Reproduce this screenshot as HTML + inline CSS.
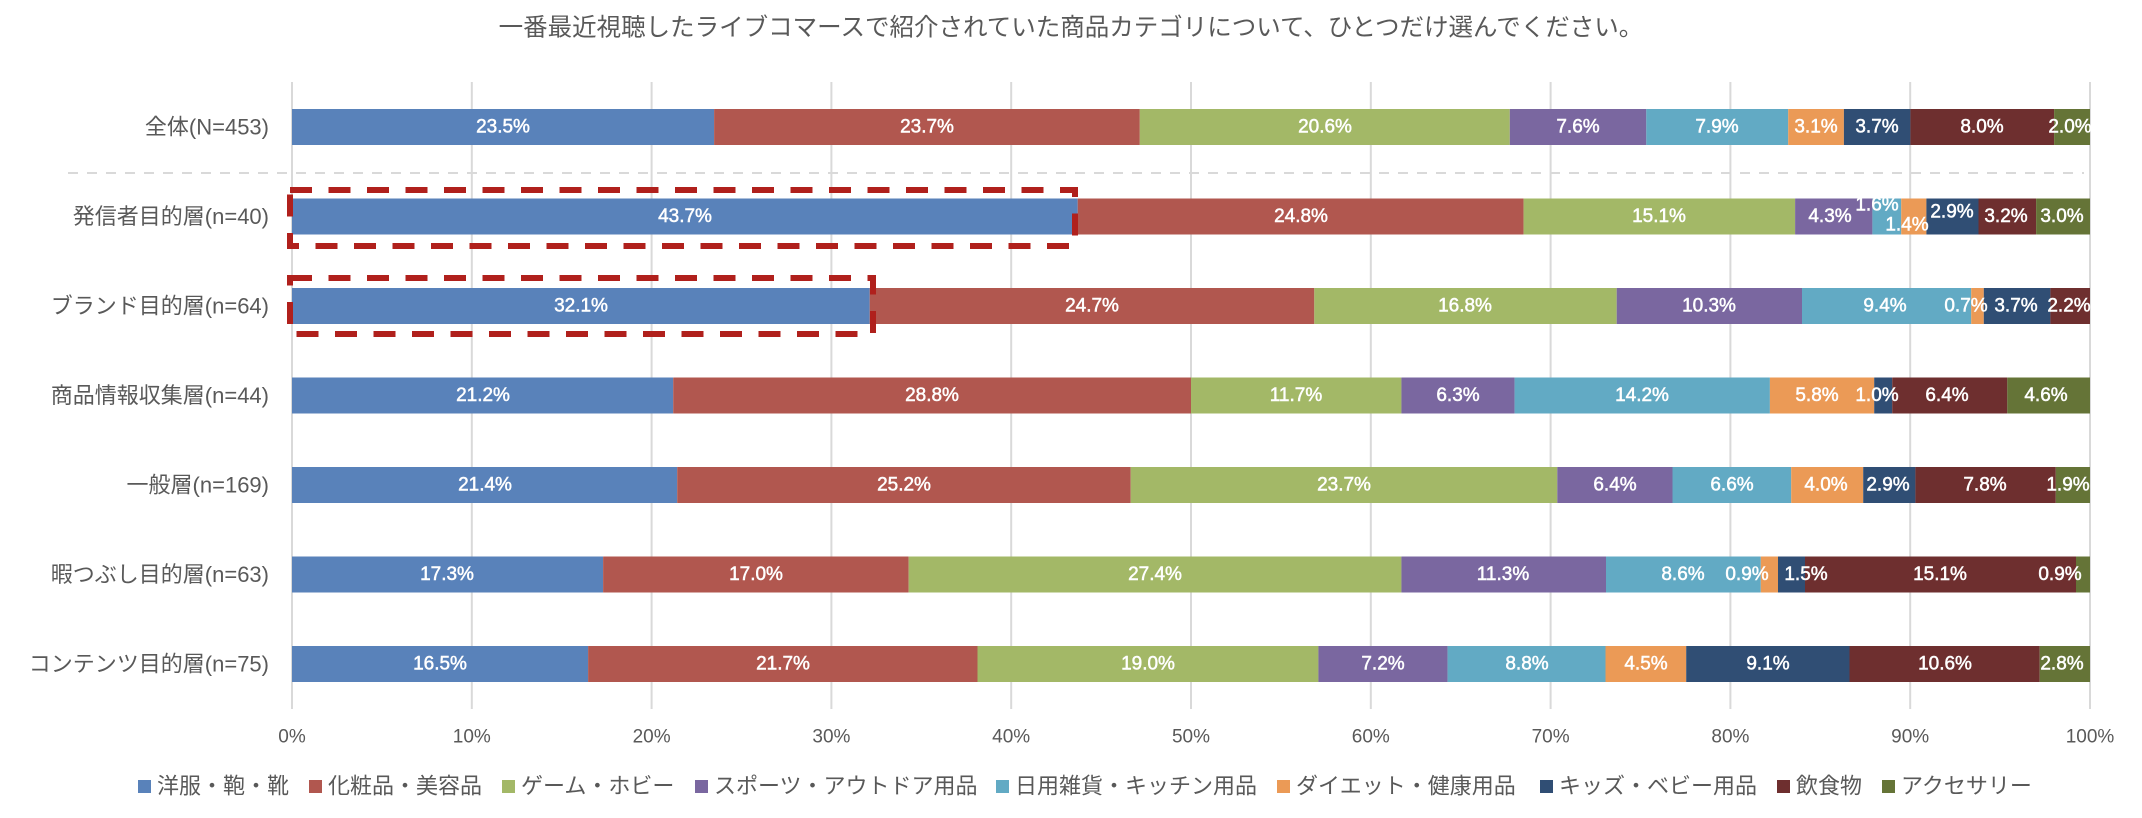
<!DOCTYPE html>
<html><head><meta charset="utf-8"><style>
html,body{margin:0;padding:0;background:#fff;}
svg{display:block;}
text{font-family:"Liberation Sans","Noto Sans CJK JP",sans-serif;}
.v{fill:#fff;stroke:#fff;stroke-width:0.5px;font-size:19px;text-anchor:middle;dominant-baseline:central;}
.c{fill:#595959;font-size:22px;text-anchor:end;dominant-baseline:central;}
.t{fill:#595959;font-size:19px;text-anchor:middle;dominant-baseline:central;}
.l{fill:#595959;font-size:22px;dominant-baseline:central;}
</style></head><body>
<svg width="2142" height="818" viewBox="0 0 2142 818" xmlns="http://www.w3.org/2000/svg">
<rect width="2142" height="818" fill="#fff"/>
<text x="1071" y="28" style="fill:#595959;font-size:24.5px;text-anchor:middle;dominant-baseline:central;">一番最近視聴したライブコマースで紹介されていた商品カテゴリについて、ひとつだけ選んでください。</text>
<g stroke="#d9d9d9" stroke-width="2">
<line x1="292" y1="82" x2="292" y2="709"/>
<line x1="471.8" y1="82" x2="471.8" y2="709"/>
<line x1="651.6" y1="82" x2="651.6" y2="709"/>
<line x1="831.4" y1="82" x2="831.4" y2="709"/>
<line x1="1011.2" y1="82" x2="1011.2" y2="709"/>
<line x1="1191" y1="82" x2="1191" y2="709"/>
<line x1="1370.8" y1="82" x2="1370.8" y2="709"/>
<line x1="1550.6" y1="82" x2="1550.6" y2="709"/>
<line x1="1730.4" y1="82" x2="1730.4" y2="709"/>
<line x1="1910.2" y1="82" x2="1910.2" y2="709"/>
<line x1="2090" y1="82" x2="2090" y2="709"/>
</g>
<line x1="68" y1="173" x2="2084" y2="173" stroke="#d9d9d9" stroke-width="2" stroke-dasharray="10 9"/>

<!-- Row 1 -->
<g>
<rect x="292" y="109" width="422.1" height="36" fill="#5982BA"/>
<rect x="714.1" y="109" width="425.7" height="36" fill="#B1574F"/>
<rect x="1139.8" y="109" width="370" height="36" fill="#A3B867"/>
<rect x="1509.8" y="109" width="136.5" height="36" fill="#7A67A0"/>
<rect x="1646.3" y="109" width="141.9" height="36" fill="#62AAC4"/>
<rect x="1788.2" y="109" width="55.7" height="36" fill="#EB9A56"/>
<rect x="1843.9" y="109" width="66.5" height="36" fill="#304E74"/>
<rect x="1910.4" y="109" width="143.7" height="36" fill="#6E2F2F"/>
<rect x="2054.1" y="109" width="35.9" height="36" fill="#657437"/>
<text class="v" x="503" y="127">23.5%</text>
<text class="v" x="927" y="127">23.7%</text>
<text class="v" x="1325" y="127">20.6%</text>
<text class="v" x="1578" y="127">7.6%</text>
<text class="v" x="1717" y="127">7.9%</text>
<text class="v" x="1816" y="127">3.1%</text>
<text class="v" x="1877" y="127">3.7%</text>
<text class="v" x="1982" y="127">8.0%</text>
<text class="v" x="2070" y="127">2.0%</text>
</g>

<!-- Row 2 -->
<g>
<rect x="292" y="198.5" width="785.7" height="36" fill="#5982BA"/>
<rect x="1077.7" y="198.5" width="445.9" height="36" fill="#B1574F"/>
<rect x="1523.6" y="198.5" width="271.5" height="36" fill="#A3B867"/>
<rect x="1795.1" y="198.5" width="77.3" height="36" fill="#7A67A0"/>
<rect x="1872.4" y="198.5" width="28.8" height="36" fill="#62AAC4"/>
<rect x="1901.2" y="198.5" width="25.2" height="36" fill="#EB9A56"/>
<rect x="1926.4" y="198.5" width="52.1" height="36" fill="#304E74"/>
<rect x="1978.5" y="198.5" width="57.6" height="36" fill="#6E2F2F"/>
<rect x="2036.1" y="198.5" width="53.9" height="36" fill="#657437"/>
<text class="v" x="685" y="216.5">43.7%</text>
<text class="v" x="1301" y="216.5">24.8%</text>
<text class="v" x="1659" y="216.5">15.1%</text>
<text class="v" x="1830" y="216.5">4.3%</text>
<text class="v" x="1877" y="205">1.6%</text>
<text class="v" x="1907" y="225">1.4%</text>
<text class="v" x="1952" y="212">2.9%</text>
<text class="v" x="2006" y="216.5">3.2%</text>
<text class="v" x="2062" y="216.5">3.0%</text>
</g>

<!-- Row 3 -->
<g>
<rect x="292" y="288" width="577.7" height="36" fill="#5982BA"/>
<rect x="869.7" y="288" width="444.6" height="36" fill="#B1574F"/>
<rect x="1314.3" y="288" width="302.4" height="36" fill="#A3B867"/>
<rect x="1616.7" y="288" width="185.3" height="36" fill="#7A67A0"/>
<rect x="1802" y="288" width="169.2" height="36" fill="#62AAC4"/>
<rect x="1971.2" y="288" width="12.6" height="36" fill="#EB9A56"/>
<rect x="1983.8" y="288" width="66.6" height="36" fill="#304E74"/>
<rect x="2050.4" y="288" width="39.6" height="36" fill="#6E2F2F"/>
<text class="v" x="581" y="306">32.1%</text>
<text class="v" x="1092" y="306">24.7%</text>
<text class="v" x="1465" y="306">16.8%</text>
<text class="v" x="1709" y="306">10.3%</text>
<text class="v" x="1885" y="306">9.4%</text>
<text class="v" x="1966" y="306">0.7%</text>
<text class="v" x="2016" y="306">3.7%</text>
<text class="v" x="2069" y="306">2.2%</text>
</g>

<!-- Row 4 -->
<g>
<rect x="292" y="377.5" width="381.2" height="36" fill="#5982BA"/>
<rect x="673.2" y="377.5" width="517.8" height="36" fill="#B1574F"/>
<rect x="1191" y="377.5" width="210.4" height="36" fill="#A3B867"/>
<rect x="1401.4" y="377.5" width="113.2" height="36" fill="#7A67A0"/>
<rect x="1514.6" y="377.5" width="255.3" height="36" fill="#62AAC4"/>
<rect x="1769.9" y="377.5" width="104.3" height="36" fill="#EB9A56"/>
<rect x="1874.2" y="377.5" width="18" height="36" fill="#304E74"/>
<rect x="1892.2" y="377.5" width="115.1" height="36" fill="#6E2F2F"/>
<rect x="2007.3" y="377.5" width="82.7" height="36" fill="#657437"/>
<text class="v" x="483" y="395.5">21.2%</text>
<text class="v" x="932" y="395.5">28.8%</text>
<text class="v" x="1296" y="395.5">11.7%</text>
<text class="v" x="1458" y="395.5">6.3%</text>
<text class="v" x="1642" y="395.5">14.2%</text>
<text class="v" x="1817" y="395.5">5.8%</text>
<text class="v" x="1877" y="395.5">1.0%</text>
<text class="v" x="1947" y="395.5">6.4%</text>
<text class="v" x="2046" y="395.5">4.6%</text>
</g>

<!-- Row 5 -->
<g>
<rect x="292" y="467" width="385.2" height="36" fill="#5982BA"/>
<rect x="677.2" y="467" width="453.5" height="36" fill="#B1574F"/>
<rect x="1130.7" y="467" width="426.6" height="36" fill="#A3B867"/>
<rect x="1557.3" y="467" width="115.2" height="36" fill="#7A67A0"/>
<rect x="1672.5" y="467" width="118.7" height="36" fill="#62AAC4"/>
<rect x="1791.2" y="467" width="72" height="36" fill="#EB9A56"/>
<rect x="1863.2" y="467" width="52.2" height="36" fill="#304E74"/>
<rect x="1915.4" y="467" width="140.4" height="36" fill="#6E2F2F"/>
<rect x="2055.8" y="467" width="34.2" height="36" fill="#657437"/>
<text class="v" x="485" y="485">21.4%</text>
<text class="v" x="904" y="485">25.2%</text>
<text class="v" x="1344" y="485">23.7%</text>
<text class="v" x="1615" y="485">6.4%</text>
<text class="v" x="1732" y="485">6.6%</text>
<text class="v" x="1826" y="485">4.0%</text>
<text class="v" x="1888" y="485">2.9%</text>
<text class="v" x="1985" y="485">7.8%</text>
<text class="v" x="2068" y="485">1.9%</text>
</g>

<!-- Row 6 -->
<g>
<rect x="292" y="556.5" width="311.1" height="36" fill="#5982BA"/>
<rect x="603.1" y="556.5" width="305.6" height="36" fill="#B1574F"/>
<rect x="908.7" y="556.5" width="492.7" height="36" fill="#A3B867"/>
<rect x="1401.4" y="556.5" width="204.6" height="36" fill="#7A67A0"/>
<rect x="1606" y="556.5" width="154.8" height="36" fill="#62AAC4"/>
<rect x="1760.8" y="556.5" width="17.2" height="36" fill="#EB9A56"/>
<rect x="1778" y="556.5" width="27" height="36" fill="#304E74"/>
<rect x="1805" y="556.5" width="271" height="36" fill="#6E2F2F"/>
<rect x="2076" y="556.5" width="14" height="36" fill="#657437"/>
<text class="v" x="447" y="574.5">17.3%</text>
<text class="v" x="756" y="574.5">17.0%</text>
<text class="v" x="1155" y="574.5">27.4%</text>
<text class="v" x="1503" y="574.5">11.3%</text>
<text class="v" x="1683" y="574.5">8.6%</text>
<text class="v" x="1747" y="574.5">0.9%</text>
<text class="v" x="1806" y="574.5">1.5%</text>
<text class="v" x="1940" y="574.5">15.1%</text>
<text class="v" x="2060" y="574.5">0.9%</text>
</g>

<!-- Row 7 -->
<g>
<rect x="292" y="646" width="296.1" height="36" fill="#5982BA"/>
<rect x="588.1" y="646" width="389.4" height="36" fill="#B1574F"/>
<rect x="977.5" y="646" width="340.9" height="36" fill="#A3B867"/>
<rect x="1318.4" y="646" width="129.2" height="36" fill="#7A67A0"/>
<rect x="1447.6" y="646" width="157.9" height="36" fill="#62AAC4"/>
<rect x="1605.5" y="646" width="80.7" height="36" fill="#EB9A56"/>
<rect x="1686.2" y="646" width="163.3" height="36" fill="#304E74"/>
<rect x="1849.5" y="646" width="190.2" height="36" fill="#6E2F2F"/>
<rect x="2039.7" y="646" width="50.3" height="36" fill="#657437"/>
<text class="v" x="440" y="664">16.5%</text>
<text class="v" x="783" y="664">21.7%</text>
<text class="v" x="1148" y="664">19.0%</text>
<text class="v" x="1383" y="664">7.2%</text>
<text class="v" x="1527" y="664">8.8%</text>
<text class="v" x="1646" y="664">4.5%</text>
<text class="v" x="1768" y="664">9.1%</text>
<text class="v" x="1945" y="664">10.6%</text>
<text class="v" x="2062" y="664">2.8%</text>
</g>

<!-- Red dashed highlight boxes -->
<rect x="290" y="190" width="785" height="56" fill="none" stroke="#B0201C" stroke-width="6" stroke-dasharray="22 16.5"/>
<rect x="290" y="278" width="583" height="56" fill="none" stroke="#B0201C" stroke-width="6" stroke-dasharray="22 16.5"/>

<!-- Category labels -->
<text class="c" x="269" y="127">全体(N=453)</text>
<text class="c" x="269" y="216.5">発信者目的層(n=40)</text>
<text class="c" x="269" y="306">ブランド目的層(n=64)</text>
<text class="c" x="269" y="395.5">商品情報収集層(n=44)</text>
<text class="c" x="269" y="485">一般層(n=169)</text>
<text class="c" x="269" y="574.5">暇つぶし目的層(n=63)</text>
<text class="c" x="269" y="664">コンテンツ目的層(n=75)</text>

<!-- X tick labels -->
<text class="t" x="292" y="737">0%</text>
<text class="t" x="471.8" y="737">10%</text>
<text class="t" x="651.6" y="737">20%</text>
<text class="t" x="831.4" y="737">30%</text>
<text class="t" x="1011.2" y="737">40%</text>
<text class="t" x="1191" y="737">50%</text>
<text class="t" x="1370.8" y="737">60%</text>
<text class="t" x="1550.6" y="737">70%</text>
<text class="t" x="1730.4" y="737">80%</text>
<text class="t" x="1910.2" y="737">90%</text>
<text class="t" x="2090" y="737">100%</text>

<!-- Legend -->
<rect x="138" y="780" width="13" height="13" fill="#5982BA"/><text class="l" x="157" y="786">洋服・鞄・靴</text>
<rect x="309" y="780" width="13" height="13" fill="#B1574F"/><text class="l" x="328" y="786">化粧品・美容品</text>
<rect x="502" y="780" width="13" height="13" fill="#A3B867"/><text class="l" x="521" y="786">ゲーム・ホビー</text>
<rect x="695" y="780" width="13" height="13" fill="#7A67A0"/><text class="l" x="714" y="786">スポーツ・アウトドア用品</text>
<rect x="996" y="780" width="13" height="13" fill="#62AAC4"/><text class="l" x="1015" y="786">日用雑貨・キッチン用品</text>
<rect x="1277" y="780" width="13" height="13" fill="#EB9A56"/><text class="l" x="1296" y="786">ダイエット・健康用品</text>
<rect x="1540" y="780" width="13" height="13" fill="#304E74"/><text class="l" x="1559" y="786">キッズ・ベビー用品</text>
<rect x="1777" y="780" width="13" height="13" fill="#6E2F2F"/><text class="l" x="1796" y="786">飲食物</text>
<rect x="1882" y="780" width="13" height="13" fill="#657437"/><text class="l" x="1901" y="786">アクセサリー</text>
</svg>
</body></html>
